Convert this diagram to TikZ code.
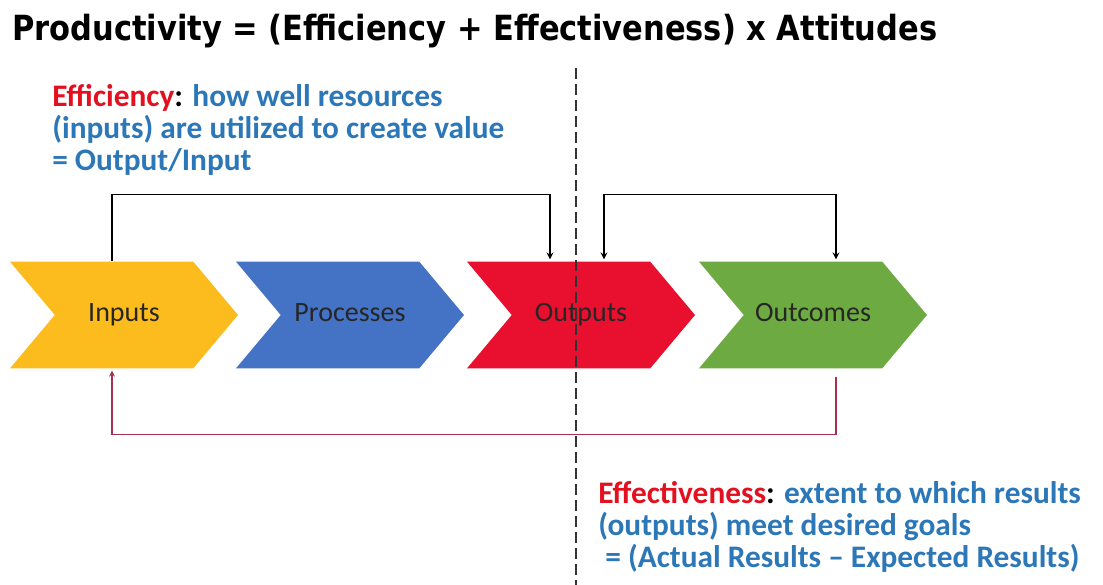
\documentclass[tikz,border=0pt]{standalone}
\usepackage{fontspec}
\usepackage{xcolor}
\usepackage{tikz}
\usetikzlibrary{shapes.symbols, calc}

\setmainfont{Carlito}
\newfontfamily\headfont{DejaVu Sans}[FakeStretch=0.88]

\definecolor{stageyellow}{HTML}{FCBC1E}
\definecolor{stageblue}{HTML}{4472C4}
\definecolor{stagered}{HTML}{E8102E}
\definecolor{stagegreen}{HTML}{6DAB42}
\definecolor{termred}{HTML}{E3101F}
\definecolor{termblue}{HTML}{2C77B7}
\definecolor{loopred}{HTML}{A3324F}

\begin{document}
\begin{tikzpicture}[x=0.75pt, y=-0.75pt]

    \tikzset{
        stage/.style = {signal, signal to=east, signal from=west, signal pointer angle=100, minimum width=171pt, minimum height=80pt, inner sep=0pt, text height=0.95em, text depth=0em, text=black!85, font=\fontsize{21}{21}\selectfont},
        note/.style = {align=left, inner sep=0pt, font=\bfseries\fontsize{23.5}{24}\selectfont, text=termblue},
        arrow/.style = {line width=1.3pt,->,>=stealth},
        both/.style = {line width=1.3pt,<->,>=stealth}
    }

    \useasboundingbox (0,0) rectangle (1103,585);

    \node (title) [anchor=base west, inner sep=0pt, font=\headfont\bfseries\fontsize{26}{30}\selectfont] at (12,41) {Productivity = (Efficiency + Effectiveness) x Attitudes};

    \node (eff) [note, anchor=north west] at (52,84) {{\color{termred}Efficiency}{\color{black}:} how well resources\\(inputs) are utilized to create value\\= Output/Input};
    \node (effect) [note, anchor=north west] at (598,481) {{\color{termred}Effectiveness}{\color{black}:} extent to which results\\(outputs) meet desired goals\\\ = (Actual Results -- Expected Results)};

    % the four stages
    \node (inp) [stage, fill=stageyellow] at (124,315) {Inputs};
    \node (proc) [stage, fill=stageblue] at (350,315) {Processes};
    \node (outp) [stage, fill=stagered] at (581,315) {Outputs};
    \node (outc) [stage, fill=stagegreen] at (813,315) {Outcomes};

    % split between efficiency and effectiveness
    \draw [black!80, line width=1pt, dash pattern=on 8pt off 4pt] (576,68) -- (576,585);

    \draw [arrow] ($(inp.north)+(-12,0)$) -- ++(0,-67) -| ($(outp.north)+(-31,-2)$);
    \draw [both] ($(outp.north)+(23,-2)$) -- ++(0,-65) -| ($(outc.north)+(23,-2)$);
    \draw [arrow, loopred, line width=1pt] ($(outc.south)+(23,8)$) -- ++(0,58) -| ($(inp.south)+(-12,2)$);

\end{tikzpicture}
\end{document}
